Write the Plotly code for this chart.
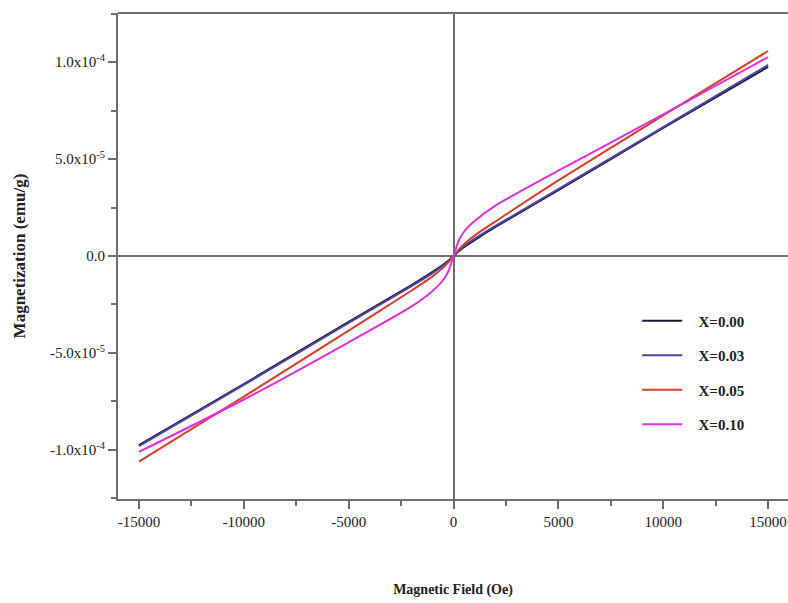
import plotly.graph_objects as go

# Magnetic field (Oe)
field = [-15000, -10000, -5000, -2000, -1000, -500, -250, 0, 250, 500, 1000, 2000, 5000, 10000, 15000]

# Magnetization (emu/g) for each composition
m_x000 = [-9.75e-5, -6.6e-5, -3.4e-5, -1.5e-5, -0.82e-5, -0.45e-5, -0.25e-5, 0.0, 0.25e-5, 0.45e-5, 0.82e-5, 1.5e-5, 3.4e-5, 6.6e-5, 9.75e-5]
m_x003 = [-9.8e-5, -6.65e-5, -3.45e-5, -1.55e-5, -0.88e-5, -0.5e-5, -0.28e-5, 0.0, 0.28e-5, 0.5e-5, 0.88e-5, 1.55e-5, 3.45e-5, 6.65e-5, 9.85e-5]
m_x005 = [-1.06e-4, -7.25e-5, -3.85e-5, -1.78e-5, -1.05e-5, -0.6e-5, -0.33e-5, 0.0, 0.33e-5, 0.6e-5, 1.05e-5, 1.78e-5, 3.9e-5, 7.25e-5, 1.057e-4]
m_x010 = [-1.01e-4, -7.4e-5, -4.45e-5, -2.6e-5, -1.8e-5, -1.25e-5, -0.8e-5, 0.0, 0.8e-5, 1.25e-5, 1.8e-5, 2.6e-5, 4.4e-5, 7.3e-5, 1.025e-4]

series_names = ["X=0.00", "X=0.03", "X=0.05", "X=0.10"]
series_values = [m_x000, m_x003, m_x005, m_x010]
series_colors = ["#1c1c30", "#4a46a8", "#d8402a", "#e030e0"]

y_tickvals = [-1e-4, -5e-5, 0, 5e-5, 1e-4]
y_ticktext = ["-1.0x10<sup>-4</sup>", "-5.0x10<sup>-5</sup>", "0.0", "5.0x10<sup>-5</sup>", "1.0x10<sup>-4</sup>"]
x_tickvals = [-15000, -10000, -5000, 0, 5000, 10000, 15000]
x_ticktext = ["-15000", "-10000", "-5000", "0", "5000", "10000", "15000"]

FONT = "Liberation Serif"
AXC = "#6e6e6e"
PAD = "\u00a0" * 3

fig = go.Figure()
for i, (name, vals, col) in enumerate(zip(series_names, series_values, series_colors)):
    fig.add_trace(go.Scatter(
        x=field, y=vals, mode="lines", name=PAD + name,
        line=dict(color=col, width=2, shape="spline", smoothing=0.6),
        legendgroup=f"g{i}",
    ))

fig.update_layout(
    width=788, height=603,
    margin=dict(l=118, r=0, t=13, b=104),
    paper_bgcolor="white", plot_bgcolor="white",
    font=dict(family=FONT, size=15, color="#222"),
    showlegend=True,
    legend=dict(
        x=0.775, y=0.40, xanchor="left", yanchor="top",
        bgcolor="rgba(0,0,0,0)",
        font=dict(family=FONT, size=15, color="#222", weight="bold"),
        tracegroupgap=12, itemwidth=40,
    ),
    shapes=[dict(type="line", xref="paper", yref="paper", x0=0, x1=1, y0=1, y1=1,
                 line=dict(color=AXC, width=2))],
)

fig.update_xaxes(
    range=[-16000, 15950],
    tickvals=x_tickvals, ticktext=x_ticktext,
    ticks="outside", ticklen=8, tickwidth=1.5, tickcolor=AXC,
    minor=dict(tick0=-12500, dtick=5000, ticks="outside", ticklen=5, tickwidth=1.5, tickcolor=AXC),
    showline=True, linecolor=AXC, linewidth=2,
    showgrid=False,
    zeroline=True, zerolinecolor=AXC, zerolinewidth=2,
    tickfont=dict(family=FONT, size=15, color="#222"),
    title=dict(text="<b>Magnetic Field (Oe)</b>", font=dict(family=FONT, size=14, color="#222"), standoff=55),
)
fig.update_yaxes(
    range=[-1.253e-4, 1.253e-4],
    tickvals=y_tickvals, ticktext=y_ticktext,
    ticks="outside", ticklen=8, tickwidth=1.5, tickcolor=AXC,
    minor=dict(tick0=-7.5e-5, dtick=5e-5, ticks="outside", ticklen=5, tickwidth=1.5, tickcolor=AXC),
    showline=True, linecolor=AXC, linewidth=2,
    showgrid=False,
    zeroline=True, zerolinecolor=AXC, zerolinewidth=2,
    tickfont=dict(family=FONT, size=15, color="#222"),
    title=dict(text="<b>Magnetization (emu/g)</b>", font=dict(family=FONT, size=17, color="#222"), standoff=20),
)

fig.write_html("out.html")
